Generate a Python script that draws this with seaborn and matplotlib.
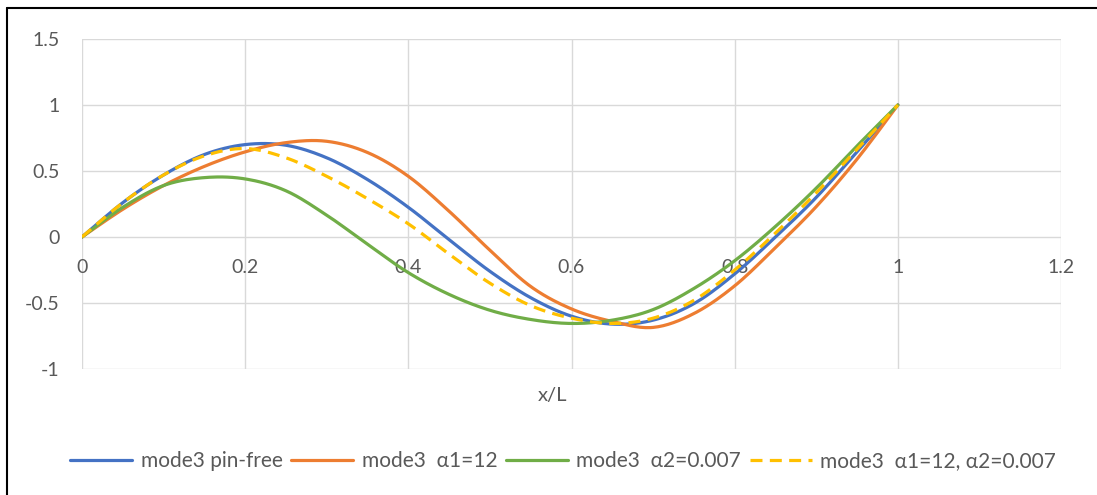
import numpy as np
import pandas as pd
import matplotlib
matplotlib.use("Agg")
import matplotlib.pyplot as plt
import seaborn as sns

# ---- data ----
x_vals = [0.0, 0.05, 0.10, 0.15, 0.20, 0.25, 0.30, 0.35, 0.40, 0.45, 0.50,
          0.55, 0.60, 0.65, 0.70, 0.75, 0.80, 0.85, 0.90, 0.95, 1.0]
pin_free = [0.0, 0.26, 0.47, 0.625, 0.70, 0.695, 0.60, 0.435, 0.225, -0.02, -0.26,
            -0.46, -0.60, -0.66, -0.63, -0.505, -0.28, 0.0, 0.30, 0.645, 1.0]
alpha1 = [0.0, 0.21, 0.39, 0.535, 0.645, 0.715, 0.725, 0.64, 0.46, 0.195, -0.10,
          -0.375, -0.545, -0.64, -0.685, -0.58, -0.37, -0.08, 0.23, 0.59, 1.0]
alpha2 = [0.0, 0.225, 0.39, 0.45, 0.44, 0.35, 0.165, -0.055, -0.27, -0.435, -0.555,
          -0.625, -0.655, -0.63, -0.55, -0.39, -0.18, 0.08, 0.37, 0.69, 1.0]
alpha12 = [0.0, 0.26, 0.47, 0.615, 0.67, 0.60, 0.46, 0.29, 0.10, -0.13, -0.35,
           -0.52, -0.615, -0.655, -0.615, -0.48, -0.25, 0.03, 0.335, 0.665, 1.0]
series_names = ["mode3 pin-free", "mode3  \u03b11=12", "mode3  \u03b12=0.007",
                "mode3  \u03b11=12, \u03b12=0.007"]
x_ticks = [0, 0.2, 0.4, 0.6, 0.8, 1, 1.2]
x_tick_labels = ["0", "0.2", "0.4", "0.6", "0.8", "1", "1.2"]
y_ticks = [-1, -0.5, 0, 0.5, 1, 1.5]
y_tick_labels = ["-1", "-0.5", "0", "0.5", "1", "1.5"]
x_label = "x/L"

colors = ["#4472C4", "#ED7D31", "#70AD47", "#FFC000"]

sns.set_style("white")
plt.rcParams['font.family'] = ['Lato', 'DejaVu Sans']


def smooth_curve(xs, ys, steps=16):
    """Catmull-Rom curve through the read points (like Excel's smoothed line)."""
    xs = np.asarray(xs, float)
    ys = np.asarray(ys, float)
    n = len(xs)
    xf, yf = [], []
    for k in range(n - 1):
        i0, i1, i2, i3 = max(k - 1, 0), k, k + 1, min(k + 2, n - 1)
        for t in np.linspace(0, 1, steps, endpoint=False):
            t2, t3 = t * t, t * t * t
            for arr, out in ((xs, xf), (ys, yf)):
                p0, p1, p2, p3 = arr[i0], arr[i1], arr[i2], arr[i3]
                out.append(0.5 * (2 * p1 + (-p0 + p2) * t
                                  + (2 * p0 - 5 * p1 + 4 * p2 - p3) * t2
                                  + (-p0 + 3 * p1 - 3 * p2 + p3) * t3))
    xf.append(xs[-1])
    yf.append(ys[-1])
    return xf, yf


frames = []
for name, vals in zip(series_names, [pin_free, alpha1, alpha2, alpha12]):
    xf, yf = smooth_curve(x_vals, vals)
    frames.append(pd.DataFrame({"x": xf, "y": yf, "series": name,
                                "order": np.arange(len(xf))}))
df = pd.concat(frames, ignore_index=True)

W, H = 1097, 495
fig = plt.figure(figsize=(W / 100, H / 100), dpi=100)
ax = fig.add_axes([82 / W, 1 - 369 / H, (1061 - 82) / W, (369 - 39) / H])

sns.lineplot(data=df, x="x", y="y", hue="series", style="series",
             hue_order=series_names, style_order=series_names,
             palette=colors,
             dashes={series_names[0]: "", series_names[1]: "",
                     series_names[2]: "", series_names[3]: (3.75, 2.3)},
             linewidth=2.3, estimator=None, sort=False, units="series",
             ax=ax, legend=True)

ax.set_xlim(0, 1.2)
ax.set_ylim(-1, 1.5)
ax.set_xticks(x_ticks)
ax.set_xticklabels(x_tick_labels)
ax.set_yticks(y_ticks)
ax.set_yticklabels(y_tick_labels)
ax.grid(True, color="#D9D9D9", linewidth=1.0)
ax.set_axisbelow(True)
for s in ax.spines.values():
    s.set_visible(False)
ax.spines['bottom'].set_position(('data', 0))
ax.tick_params(axis='both', length=0, labelsize=14, labelcolor="#595959")
ax.tick_params(axis='x', pad=16)
ax.tick_params(axis='y', pad=16)
ax.set_xlabel("")
ax.set_ylabel("")
fig.text(553 / W, 1 - 396 / H, x_label, ha="center", va="center",
         fontsize=14.5, color="#595959")

handles, labels = ax.get_legend_handles_labels()
leg = ax.get_legend()
if leg is not None:
    leg.remove()
fig.legend(handles, labels, loc="center", bbox_to_anchor=(563 / W, 1 - 461 / H),
           ncol=4, frameon=False, fontsize=15, handlelength=3.0,
           handletextpad=0.4, columnspacing=0.4, labelcolor="#595959")

# outer chart border (left and top visible in the reference)
fig.add_artist(plt.Line2D([7 / W, 7 / W], [0, 1 - 8 / H], transform=fig.transFigure,
                          color="black", linewidth=1.5))
fig.add_artist(plt.Line2D([7 / W, 1], [1 - 8 / H, 1 - 8 / H], transform=fig.transFigure,
                          color="black", linewidth=1.5))

fig.savefig("out.png", dpi=100)
